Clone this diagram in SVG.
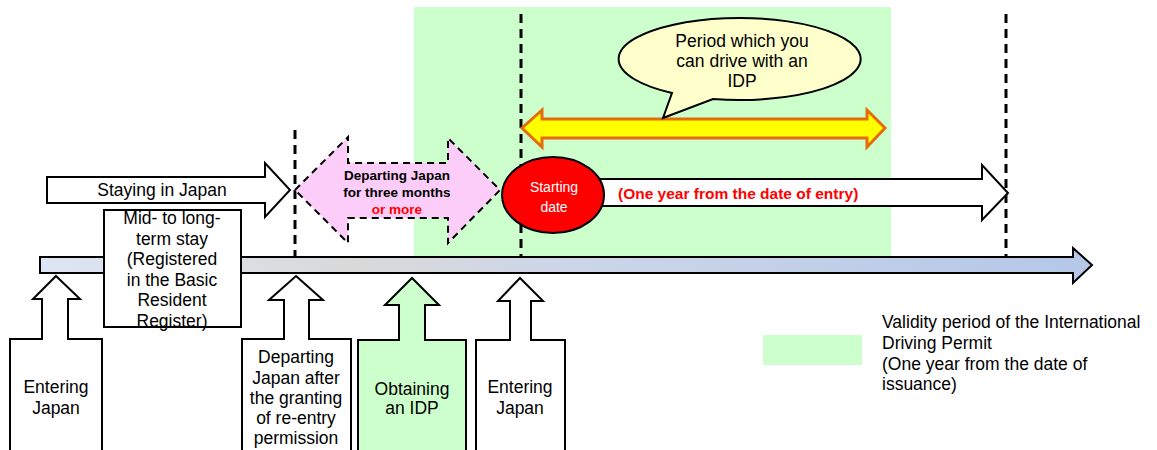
<svg xmlns="http://www.w3.org/2000/svg" width="1157" height="450" viewBox="0 0 1157 450">
<defs>
<linearGradient id="tl" x1="40" y1="0" x2="1092" y2="0" gradientUnits="userSpaceOnUse">
<stop offset="0" stop-color="#dde5f4"/>
<stop offset="0.3" stop-color="#d9d9d9"/>
<stop offset="0.5" stop-color="#cdd6e8"/>
<stop offset="1" stop-color="#b4c7e7"/>
</linearGradient>
<style>
.t{font-family:"Liberation Sans",Arial,sans-serif;font-size:17.5px;fill:#000;text-anchor:middle;dominant-baseline:central}
.tl{font-family:"Liberation Sans",Arial,sans-serif;font-size:17.5px;fill:#000;dominant-baseline:central}
.b{font-family:"Liberation Sans",Arial,sans-serif;font-weight:bold;font-size:13.5px;text-anchor:middle;dominant-baseline:central}
.box{fill:#fff;stroke:#000;stroke-width:2}
.dash{stroke:#000;stroke-width:3;stroke-dasharray:9 6;fill:none}
</style>
</defs>
<rect id="idp-validity" x="414" y="7" width="477" height="250" fill="#ccffcc"/>
<g id="timeline">
<polygon points="40,257 1073,257 1073,248 1092,265 1073,283 1073,273 40,273" fill="url(#tl)" stroke="#000" stroke-width="2"/>
</g>
<g id="connectors">
<line class="dash" x1="295" y1="130" x2="295" y2="256"/>
<line class="dash" x1="521" y1="14" x2="521" y2="256"/>
<line class="dash" x1="1006" y1="14" x2="1006" y2="256"/>
</g>
<g id="staying">
<polygon class="box" points="47,177 265,177 265,163 290,190 265,217 265,203 47,203"/>
<text class="t" x="162" y="190">Staying in Japan</text>
</g>
<g id="departing-3m">
<polygon points="295,190 348,137 348,163 448,163 448,138 500,190 448,243 448,218 348,218 348,243" fill="#fbcdf8" stroke="#000" stroke-width="2" stroke-dasharray="7 5"/>
<text class="b" x="397" y="175" fill="#000">Departing Japan</text>
<text class="b" x="397" y="192" fill="#000">for three months</text>
<text class="b" x="397" y="209" fill="#ff0000">or more</text>
</g>
<g id="one-year">
<polygon class="box" points="580,179 982,179 982,165 1008,193 982,220 982,206 580,206"/>
<text x="618" y="193" font-family="Liberation Sans,Arial,sans-serif" font-weight="bold" font-size="15.5" fill="#ff0000" dominant-baseline="central">(One year from the date of entry)</text>
</g>
<g id="starting-date">
<ellipse cx="553" cy="195" rx="51" ry="38" fill="#ff0000" stroke="#000" stroke-width="2"/>
<text x="554" y="187" font-family="Liberation Sans,Arial,sans-serif" font-size="14" fill="#fff" text-anchor="middle" dominant-baseline="central">Starting</text>
<text x="554" y="207" font-family="Liberation Sans,Arial,sans-serif" font-size="14" fill="#fff" text-anchor="middle" dominant-baseline="central">date</text>
</g>
<g id="drive-period">
<polygon points="522,128 542,110 542,119 867,119 867,110 885,128 867,147 867,138 542,138 542,147" fill="#ffff00" stroke="#e46c0a" stroke-width="3" stroke-linejoin="miter"/>
</g>
<g id="bubble">
<path d="M672,93 A121,41 0 1 1 713,99 L663,118 Z" fill="#ffffcc" stroke="#000" stroke-width="2"/>
<text class="t" x="742" y="41" font-size="16.5">Period which you</text>
<text class="t" x="742" y="61" font-size="16.5">can drive with an</text>
<text class="t" x="742" y="81" font-size="16.5">IDP</text>
</g>
<g id="mid-long">
<rect class="box" x="104" y="210" width="137" height="117"/>
<text class="t" x="172" y="218">Mid- to long-</text>
<text class="t" x="172" y="239">term stay</text>
<text class="t" x="172" y="259">(Registered</text>
<text class="t" x="172" y="280">in the Basic</text>
<text class="t" x="172" y="300">Resident</text>
<text class="t" x="172" y="321">Register)</text>
</g>
<g id="entering1">
<polygon class="box" points="56,276 80,299 68,299 68,339 102,339 102,452 10,452 10,339 42,339 42,299 33,299"/>
<text class="t" x="56" y="387">Entering</text>
<text class="t" x="56" y="408">Japan</text>
</g>
<g id="departing-reentry">
<polygon class="box" points="296,276 323,300 309,300 309,339 351,339 351,452 242,452 242,339 284,339 284,300 269,300"/>
<text class="t" x="296" y="357">Departing</text>
<text class="t" x="296" y="378">Japan after</text>
<text class="t" x="296" y="398">the granting</text>
<text class="t" x="296" y="418">of re-entry</text>
<text class="t" x="296" y="438">permission</text>
</g>
<g id="obtaining">
<polygon points="412,278 439,305 425,305 425,340 466,340 466,452 358,452 358,340 399,340 399,305 385,305" fill="#ccffcc" stroke="#000" stroke-width="2"/>
<text class="t" x="412" y="389" font-size="14.5">Obtaining</text>
<text class="t" x="412" y="408" font-size="14.5">an IDP</text>
</g>
<g id="entering2">
<polygon class="box" points="520,278 543,301 531,301 531,340 565,340 565,452 476,452 476,340 510,340 510,301 498,301"/>
<text class="t" x="520" y="387">Entering</text>
<text class="t" x="520" y="408">Japan</text>
</g>
<g id="legend">
<rect x="763" y="335" width="99" height="30" fill="#ccffcc"/>
<text class="tl" x="882" y="322">Validity period of the International</text>
<text class="tl" x="882" y="343">Driving Permit</text>
<text class="tl" x="882" y="364">(One year from the date of</text>
<text class="tl" x="882" y="384">issuance)</text>
</g>
</svg>
